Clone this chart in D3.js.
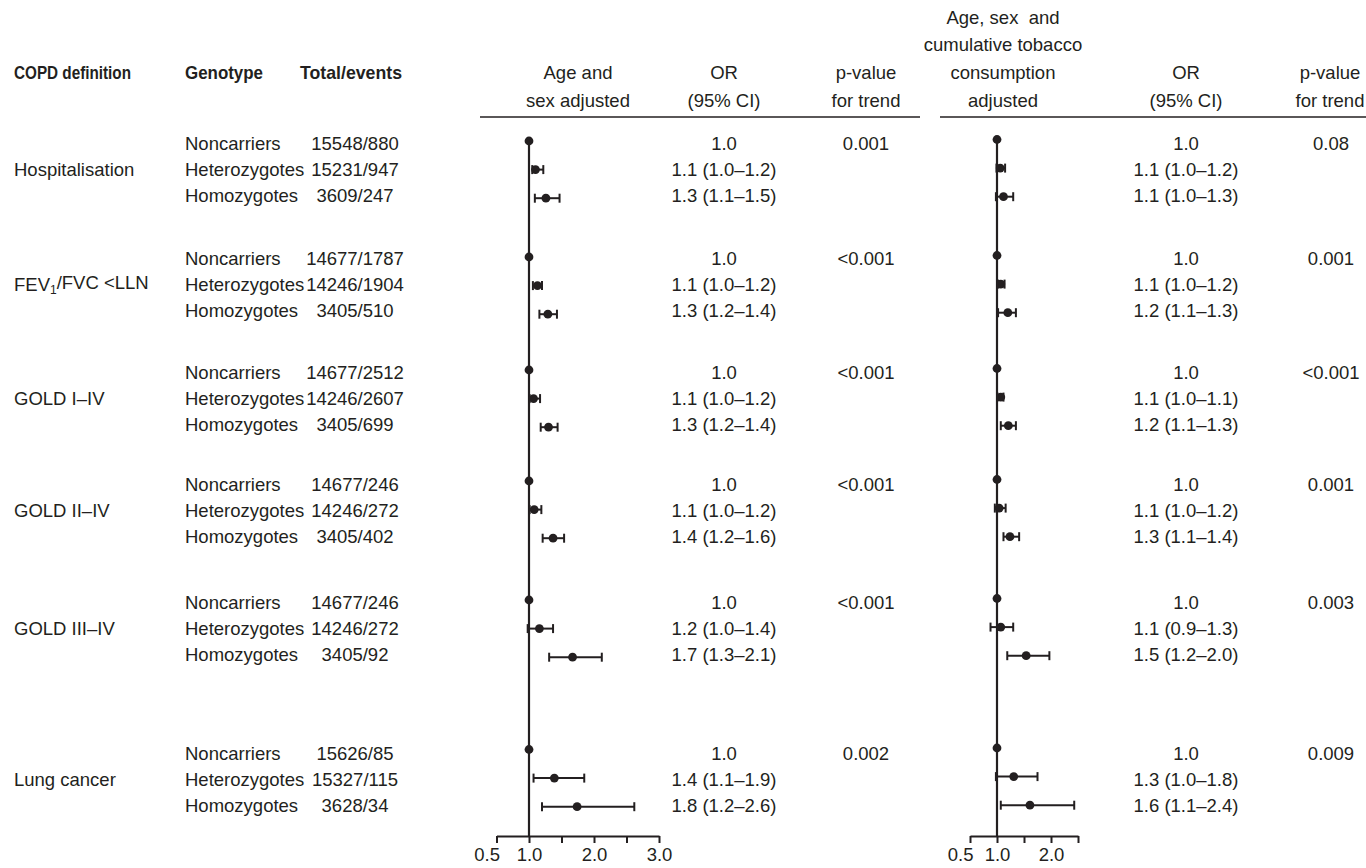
<!DOCTYPE html>
<html>
<head>
<meta charset="utf-8">
<script src="https://cdn.jsdelivr.net/npm/d3@7"></script>
<style>
  body { margin: 0; background: #fff; }
  svg text { font-family: "Liberation Sans", Arial, Helvetica, sans-serif; fill: #231f20; }
  svg text.head { font-weight: bold; }
</style>
</head>
<body>
<script>
// COPD definitions, genotypes and counts
const definitions = ['Hospitalisation', 'FEV1/FVC <LLN', 'GOLD I–IV', 'GOLD II–IV', 'GOLD III–IV', 'Lung cancer'];
const genotypes = ['Noncarriers', 'Heterozygotes', 'Homozygotes'];
const totalEvents = [
  ['15548/880', '15231/947', '3609/247'],
  ['14677/1787', '14246/1904', '3405/510'],
  ['14677/2512', '14246/2607', '3405/699'],
  ['14677/246', '14246/272', '3405/402'],
  ['14677/246', '14246/272', '3405/92'],
  ['15626/85', '15327/115', '3628/34']
];

// age and sex adjusted odds ratios (as drawn)
const orAgeSex = [[1, 1.10, 1.26], [1, 1.13, 1.29], [1, 1.07, 1.30], [1, 1.08, 1.37], [1, 1.16, 1.67], [1, 1.39, 1.74]];
const loAgeSex = [[null, 1.05, 1.09], [null, 1.06, 1.16], [null, 1.01, 1.18], [null, 1.01, 1.21], [null, 0.98, 1.31], [null, 1.07, 1.20]];
const hiAgeSex = [[null, 1.22, 1.47], [null, 1.20, 1.43], [null, 1.17, 1.44], [null, 1.19, 1.54], [null, 1.37, 2.12], [null, 1.85, 2.62]];
const orTextAgeSex = [
  ['1.0', '1.1 (1.0–1.2)', '1.3 (1.1–1.5)'],
  ['1.0', '1.1 (1.0–1.2)', '1.3 (1.2–1.4)'],
  ['1.0', '1.1 (1.0–1.2)', '1.3 (1.2–1.4)'],
  ['1.0', '1.1 (1.0–1.2)', '1.4 (1.2–1.6)'],
  ['1.0', '1.2 (1.0–1.4)', '1.7 (1.3–2.1)'],
  ['1.0', '1.4 (1.1–1.9)', '1.8 (1.2–2.6)']
];
const pAgeSex = ['0.001', '<0.001', '<0.001', '<0.001', '<0.001', '0.002'];

// age, sex and cumulative tobacco adjusted odds ratios (as drawn)
const orTobacco = [[1, 1.06, 1.12], [1, 1.07, 1.20], [1, 1.07, 1.21], [1, 1.04, 1.24], [1, 1.07, 1.54], [1, 1.31, 1.61]];
const loTobacco = [[null, 0.99, 0.98], [null, 1.02, 1.02], [null, 1.01, 1.07], [null, 0.96, 1.12], [null, 0.88, 1.19], [null, 0.98, 1.07]];
const hiTobacco = [[null, 1.15, 1.30], [null, 1.14, 1.35], [null, 1.12, 1.35], [null, 1.16, 1.41], [null, 1.30, 1.97], [null, 1.75, 2.43]];
const orTextTobacco = [
  ['1.0', '1.1 (1.0–1.2)', '1.1 (1.0–1.3)'],
  ['1.0', '1.1 (1.0–1.2)', '1.2 (1.1–1.3)'],
  ['1.0', '1.1 (1.0–1.1)', '1.2 (1.1–1.3)'],
  ['1.0', '1.1 (1.0–1.2)', '1.3 (1.1–1.4)'],
  ['1.0', '1.1 (0.9–1.3)', '1.5 (1.2–2.0)'],
  ['1.0', '1.3 (1.0–1.8)', '1.6 (1.1–2.4)']
];
const pTobacco = ['0.08', '0.001', '<0.001', '0.001', '0.003', '0.009'];

// axis ticks
const ticksAgeSex = [0.5, 1, 1.5, 2, 2.5, 3];
const ticksTobacco = [0.5, 1, 1.5, 2, 2.5];
const tickLabels = {0.5: '0.5', 1: '1.0', 2: '2.0', 3: '3.0'};

(function () {
  'use strict';

  const width = 1366;
  const height = 868;
  const ink = '#231f20';
  const fontSize = 18.5;

  // row layout
  const textTop = [143, 258, 372, 484, 602, 753];
  const textStep = 26.4;
  const dotTop = [141, 257, 370, 481, 600, 749.5];
  const dotStep = 28.6;
  const axisY = 836;

  const svg = d3.select('body')
    .append('svg')
    .attr('width', width)
    .attr('height', height);

  svg.append('rect')
    .attr('width', width)
    .attr('height', height)
    .attr('fill', '#fff');

  function textRow(g, i) { return textTop[g] + i * textStep; }

  function label(x, y, str, anchor) {
    return svg.append('text')
      .attr('x', x)
      .attr('y', y)
      .attr('dy', '0.36em')
      .attr('text-anchor', anchor || 'start')
      .style('font-size', fontSize + 'px')
      .text(str);
  }

  // bold headers are set narrow in the original
  function head(x, y, str, anchor, len) {
    return label(x, y, str, anchor)
      .attr('class', 'head')
      .attr('textLength', len)
      .attr('lengthAdjust', 'spacingAndGlyphs');
  }

  // column headers
  function drawHeaders() {
    head(14, 72, 'COPD definition', 'start', 117);
    head(185, 72, 'Genotype', 'start', 78);
    head(351, 72, 'Total/events', 'middle', 102);

    label(578, 72, 'Age and', 'middle');
    label(578, 100, 'sex adjusted', 'middle');
    label(724, 72, 'OR', 'middle');
    label(724, 100, '(95% CI)', 'middle');
    label(866, 72, 'p-value', 'middle');
    label(866, 100, 'for trend', 'middle');

    label(1003, 17, 'Age, sex  and', 'middle').style('white-space', 'pre');
    label(1003, 44, 'cumulative tobacco', 'middle');
    label(1003, 72, 'consumption', 'middle');
    label(1003, 100, 'adjusted', 'middle');
    label(1186, 72, 'OR', 'middle');
    label(1186, 100, '(95% CI)', 'middle');
    label(1330, 72, 'p-value', 'middle');
    label(1330, 100, 'for trend', 'middle');

    svg.append('line')
      .attr('x1', 480).attr('x2', 920)
      .attr('y1', 117).attr('y2', 117)
      .attr('stroke', ink).attr('stroke-width', 1.5);
    svg.append('line')
      .attr('x1', 940).attr('x2', 1366)
      .attr('y1', 117).attr('y2', 117)
      .attr('stroke', ink).attr('stroke-width', 1.5);
  }

  // table text
  function drawTable() {
    definitions.forEach((def, g) => {
      const t = svg.append('text')
        .attr('x', 14)
        .attr('y', textRow(g, 1))
        .attr('dy', '0.36em')
        .style('font-size', fontSize + 'px');
      if (def.indexOf('FEV1') === 0) {
        t.append('tspan').text('FEV');
        t.append('tspan').text('1')
          .style('font-size', '12px')
          .attr('dy', '0.25em');
        t.append('tspan').text('/FVC <LLN')
          .attr('dy', '-0.25em');
      } else {
        t.text(def);
      }

      genotypes.forEach((gen, i) => {
        label(185, textRow(g, i), gen);
        label(355, textRow(g, i), totalEvents[g][i], 'middle');
        label(724, textRow(g, i), orTextAgeSex[g][i], 'middle');
        label(1186, textRow(g, i), orTextTobacco[g][i], 'middle');
      });

      label(866, textRow(g, 0), pAgeSex[g], 'middle');
      label(1331, textRow(g, 0), pTobacco[g], 'middle');
    });
  }

  // one forest panel
  function drawForest(range, domain, ticks, or, lo, hi, lineTop, shift) {
    const x = d3.scaleLinear().domain(domain).range(range);

    const rows = [];
    or.forEach((grp, g) => {
      grp.forEach((v, i) => {
        rows.push({
          or: v,
          lo: lo[g][i],
          hi: hi[g][i],
          y: dotTop[g] + i * dotStep + shift
        });
      });
    });

    // reference line at OR = 1
    svg.append('line')
      .attr('x1', x(1)).attr('x2', x(1))
      .attr('y1', lineTop).attr('y2', axisY)
      .attr('stroke', ink)
      .attr('stroke-width', 2.2);

    const ci = rows.filter(d => d.lo !== null);

    svg.append('g').selectAll('line')
      .data(ci)
      .enter()
      .append('line')
        .attr('x1', d => x(d.lo))
        .attr('x2', d => x(d.hi))
        .attr('y1', d => d.y)
        .attr('y2', d => d.y)
        .attr('stroke', ink)
        .attr('stroke-width', 2);

    // whisker caps
    ['lo', 'hi'].forEach(k => {
      svg.append('g').selectAll('line')
        .data(ci)
        .enter()
        .append('line')
          .attr('x1', d => x(d[k]))
          .attr('x2', d => x(d[k]))
          .attr('y1', d => d.y - 4.5)
          .attr('y2', d => d.y + 4.5)
          .attr('stroke', ink)
          .attr('stroke-width', 2);
    });

    svg.append('g').selectAll('circle')
      .data(rows)
      .enter()
      .append('circle')
        .attr('cx', d => x(d.or))
        .attr('cy', d => d.y)
        .attr('r', 4.4)
        .attr('fill', ink);

    const axis = d3.axisBottom(x)
      .tickValues(ticks)
      .tickSize(7)
      .tickSizeOuter(0)
      .tickPadding(5)
      .tickFormat(d => tickLabels[d] || '');

    const ax = svg.append('g')
      .attr('transform', 'translate(0,' + axisY + ')')
      .call(axis);

    ax.select('.domain')
      .attr('stroke', ink)
      .attr('stroke-width', 2.2);
    ax.selectAll('.tick line')
      .attr('stroke', ink)
      .attr('stroke-width', 2);
    ax.selectAll('.tick text')
      .attr('fill', ink)
      .style('font-family', '"Liberation Sans", Arial, sans-serif')
      .style('font-size', fontSize + 'px');

    // pull the 0.5 label left so it clears 1.0
    ax.selectAll('.tick')
      .filter(d => d === 0.5)
      .select('text')
      .attr('text-anchor', 'end')
      .attr('x', 3);
  }

  drawHeaders();
  drawTable();
  drawForest([496.5, 659], [0.5, 3], ticksAgeSex, orAgeSex, loAgeSex, hiAgeSex, 138, 0);
  drawForest([970, 1078], [0.5, 2.5], ticksTobacco, orTobacco, loTobacco, hiTobacco, 136, -1.5);
}());
</script>
</body>
</html>
